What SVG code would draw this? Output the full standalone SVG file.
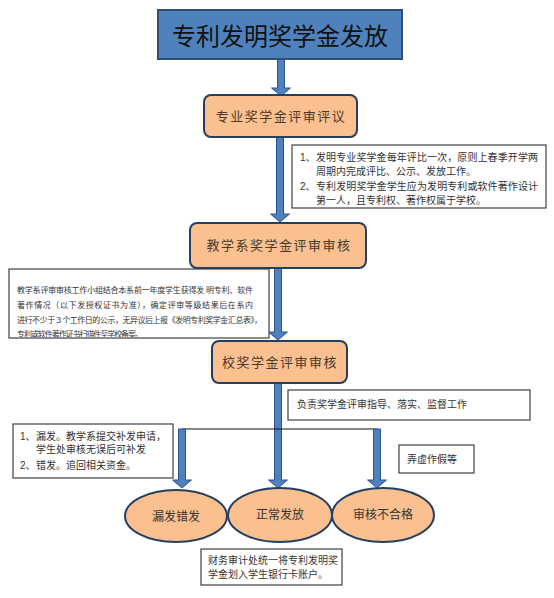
<svg xmlns="http://www.w3.org/2000/svg" width="554" height="598" viewBox="0 0 554 598">
<defs>
<style>
text{font-family:"Liberation Sans","Noto Sans CJK SC",sans-serif;}
.title{font-size:24px;fill:#111;}
.node{fill:#FAC090;stroke:#243F60;stroke-width:2;}
.ntext{font-size:13px;fill:#4a3a2c;letter-spacing:1.5px;}
.info{fill:#fff;stroke:#404040;stroke-width:1.2;}
.itext{font-size:10px;fill:#333;}
.stext{font-size:8px;fill:#333;}
.ell{fill:#FAC090;stroke:#243F60;stroke-width:2;}
.etext{font-size:12px;fill:#333;}
.arrow{fill:#4F81BD;stroke:#2F528F;stroke-width:1;}
.line{stroke:#111;stroke-width:1.2;fill:none;}
</style>
<clipPath id="clip2"><rect x="10" y="270" width="258" height="67"/></clipPath>
</defs>

<g id="connectors">
<path class="arrow" d="M277.5,59 h7 v29 h6 l-9.5,8 l-9.5,-8 h6 z"/>
<path class="arrow" d="M276.5,137 h7 v77 h6 l-9.5,8 l-9.5,-8 h6 z"/>
<path class="arrow" d="M274.5,268 h7 v64 h6 l-9.5,8 l-9.5,-8 h6 z"/>
<path class="arrow" d="M274.5,383 h7 v97 h6 l-9.5,8 l-9.5,-8 h6 z"/>
<polyline class="line" points="182,429 377,429"/>
<path class="arrow" d="M178.5,429 h7 v51 h6 l-9.5,8 l-9.5,-8 h6 z"/>
<path class="arrow" d="M373.5,429 h7 v51 h6 l-9.5,8 l-9.5,-8 h6 z"/>
</g>

<g id="title">
<rect x="158" y="10" width="244" height="49" fill="#4F81BD" stroke="#2F4F75" stroke-width="2"/>
<text class="title" x="280" y="45" text-anchor="middle">专利发明奖学金发放</text>
</g>

<g id="node1">
<rect class="node" x="204" y="95" width="153" height="42" rx="7"/>
<text class="ntext" x="281" y="121" text-anchor="middle">专业奖学金评审评议</text>
</g>

<g id="info1">
<rect class="info" x="292" y="145" width="254" height="63"/>
<text class="itext" x="300" y="161">1、</text>
<text class="itext" x="316" y="161" textLength="222">发明专业奖学金每年评比一次，原则上春季开学两</text>
<text class="itext" x="316" y="175">周期内完成评比、公示、发放工作。</text>
<text class="itext" x="300" y="190">2、</text>
<text class="itext" x="316" y="190" textLength="222">专利发明奖学金学生应为发明专利或软件著作设计</text>
<text class="itext" x="316" y="204">第一人，且专利权、著作权属于学校。</text>
</g>

<g id="node2">
<rect class="node" x="190" y="223" width="176" height="45" rx="7"/>
<text class="ntext" x="279" y="250" text-anchor="middle">教学系奖学金评审审核</text>
</g>

<g id="info2">
<rect class="info" x="9" y="269" width="260" height="69"/>
<g clip-path="url(#clip2)">
<text class="stext" x="17" y="293" textLength="236">教学系评审审核工作小组结合本系前一年度学生获得发 明专利、软件</text>
<text class="stext" x="17" y="308" textLength="236">著作情况（以下发授权证书为准），确定评审等级结果后在系内</text>
<text class="stext" x="17" y="323" textLength="245">进行不少于３个工作日的公示，无异议后上报《发明专利奖学金汇总表》，</text>
<text class="stext" x="17" y="337" font-size="7" textLength="126">专利或软件著作证书扫描件至学校备案。</text>
</g>
</g>

<g id="node3">
<rect class="node" x="212" y="341" width="135" height="42" rx="7"/>
<text class="ntext" x="280" y="367" text-anchor="middle">校奖学金评审审核</text>
</g>

<g id="info3">
<rect class="info" x="288" y="390" width="242" height="30"/>
<text class="itext" x="297" y="408">负责奖学金评审指导、落实、监督工作</text>
</g>

<g id="info4">
<rect class="info" x="13" y="424" width="160" height="54"/>
<text class="itext" x="20" y="440">1、</text>
<text class="itext" x="36" y="440">漏发。教学系提交补发申请，</text>
<text class="itext" x="36" y="453">学生处审核无误后可补发</text>
<text class="itext" x="20" y="469">2、</text>
<text class="itext" x="36" y="469">错发。追回相关资金。</text>
</g>

<g id="info5">
<rect class="info" x="399" y="445" width="75" height="28"/>
<text class="itext" x="407" y="463">弄虚作假等</text>
</g>

<g id="ellipse1">
<ellipse class="ell" cx="176" cy="516" rx="51" ry="26"/>
<text class="etext" x="176" y="521" text-anchor="middle">漏发错发</text>
</g>
<g id="ellipse2">
<ellipse class="ell" cx="280" cy="515" rx="52" ry="27"/>
<text class="etext" x="280" y="519" text-anchor="middle">正常发放</text>
</g>
<g id="ellipse3">
<ellipse class="ell" cx="383" cy="515" rx="51" ry="27"/>
<text class="etext" x="383" y="519" text-anchor="middle">审核不合格</text>
</g>

<g id="info6">
<rect class="info" x="201" y="549" width="141" height="36"/>
<text class="itext" x="208" y="564" textLength="130">财务审计处统一将专利发明奖</text>
<text class="itext" x="208" y="578">学金划入学生银行卡账户。</text>
</g>
</svg>
